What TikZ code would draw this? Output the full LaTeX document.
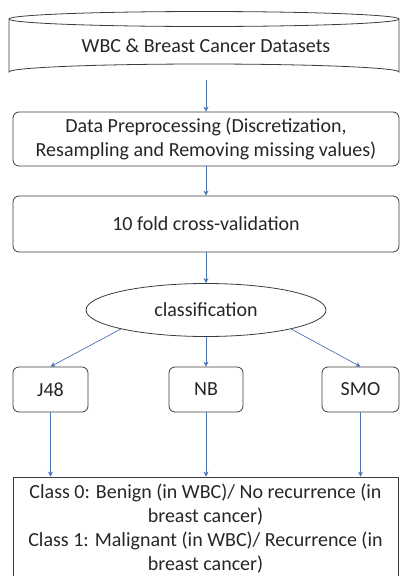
\documentclass[tikz,border=0pt]{standalone}
\usepackage{fontspec}
\setmainfont{Carlito}
\usetikzlibrary{arrows.meta,shapes.geometric}
\definecolor{arrowblue}{HTML}{4A74B4}
\definecolor{edgegray}{HTML}{3C3C3C}
\definecolor{txt}{HTML}{262626}
\begin{document}
\begin{tikzpicture}[x=1pt,y=-1pt,
  font=\fontsize{20}{24}\selectfont, text=txt,
  boxstyle/.style={draw=edgegray, line width=0.8pt, rounded corners=6pt, align=center, inner sep=0pt},
  conn/.style={draw=arrowblue, line width=0.7pt, -{Stealth[length=5pt,width=5pt]}}]
\useasboundingbox (0,0) rectangle (400,576);
\clip (0,0) rectangle (400,576);
% cylinder
\draw[edgegray, line width=0.8pt, fill=white]
  (9,19) -- (9,72) arc[start angle=180, end angle=360, x radius=195, y radius=8]
  -- (399,19) arc[start angle=0, end angle=-180, x radius=195, y radius=7.5] -- cycle;
\draw[edgegray, line width=0.8pt] (9,19) arc[start angle=180, end angle=0, x radius=195, y radius=7.5];
\node[minimum width=386pt, minimum height=68pt, inner sep=0pt] (db) at (206,46) {WBC \& Breast Cancer Datasets};
\node[boxstyle, minimum width=386pt, minimum height=54pt] (pre) at (206,139)
  {Data Preprocessing (Discretization,\\Resampling and Removing missing values)};
\node[boxstyle, minimum width=386pt, minimum height=56pt] (cv) at (206,224) {10 fold cross-validation};
\node[ellipse, draw=edgegray, line width=0.8pt, minimum width=240pt, minimum height=53pt, inner sep=0pt] (cls) at (206,310) {classification};
\node[boxstyle, minimum width=75pt, minimum height=45pt] (j48) at (50.5,389.5) {J48};
\node[boxstyle, minimum width=74pt, minimum height=45pt] (nb) at (206,389.5) {NB};
\node[boxstyle, minimum width=77pt, minimum height=45pt] (smo) at (360.5,389.5) {SMO};
\node[draw=edgegray, line width=0.8pt, minimum width=385pt, minimum height=104pt, align=center, inner sep=0pt] (out) at (205.5,529)
  {Class 0: Benign (in WBC)/ No recurrence (in\\breast cancer)\\Class 1: Malignant (in WBC)/ Recurrence (in\\breast cancer)};
% connectors
\draw[conn] (db.south) -- (pre.north);
\draw[conn] (pre.south) -- (cv.north);
\draw[conn] (cv.south) -- (cls.north);
\draw[conn] (cls.south west) -- (j48.north);
\draw[conn] (cls.south) -- (nb.north);
\draw[conn] (cls.south east) -- (smo.north);
\draw[conn] (j48.south) -- (j48.south |- out.north);
\draw[conn] (nb.south) -- (nb.south |- out.north);
\draw[conn] (smo.south) -- (smo.south |- out.north);
\end{tikzpicture}
\end{document}
